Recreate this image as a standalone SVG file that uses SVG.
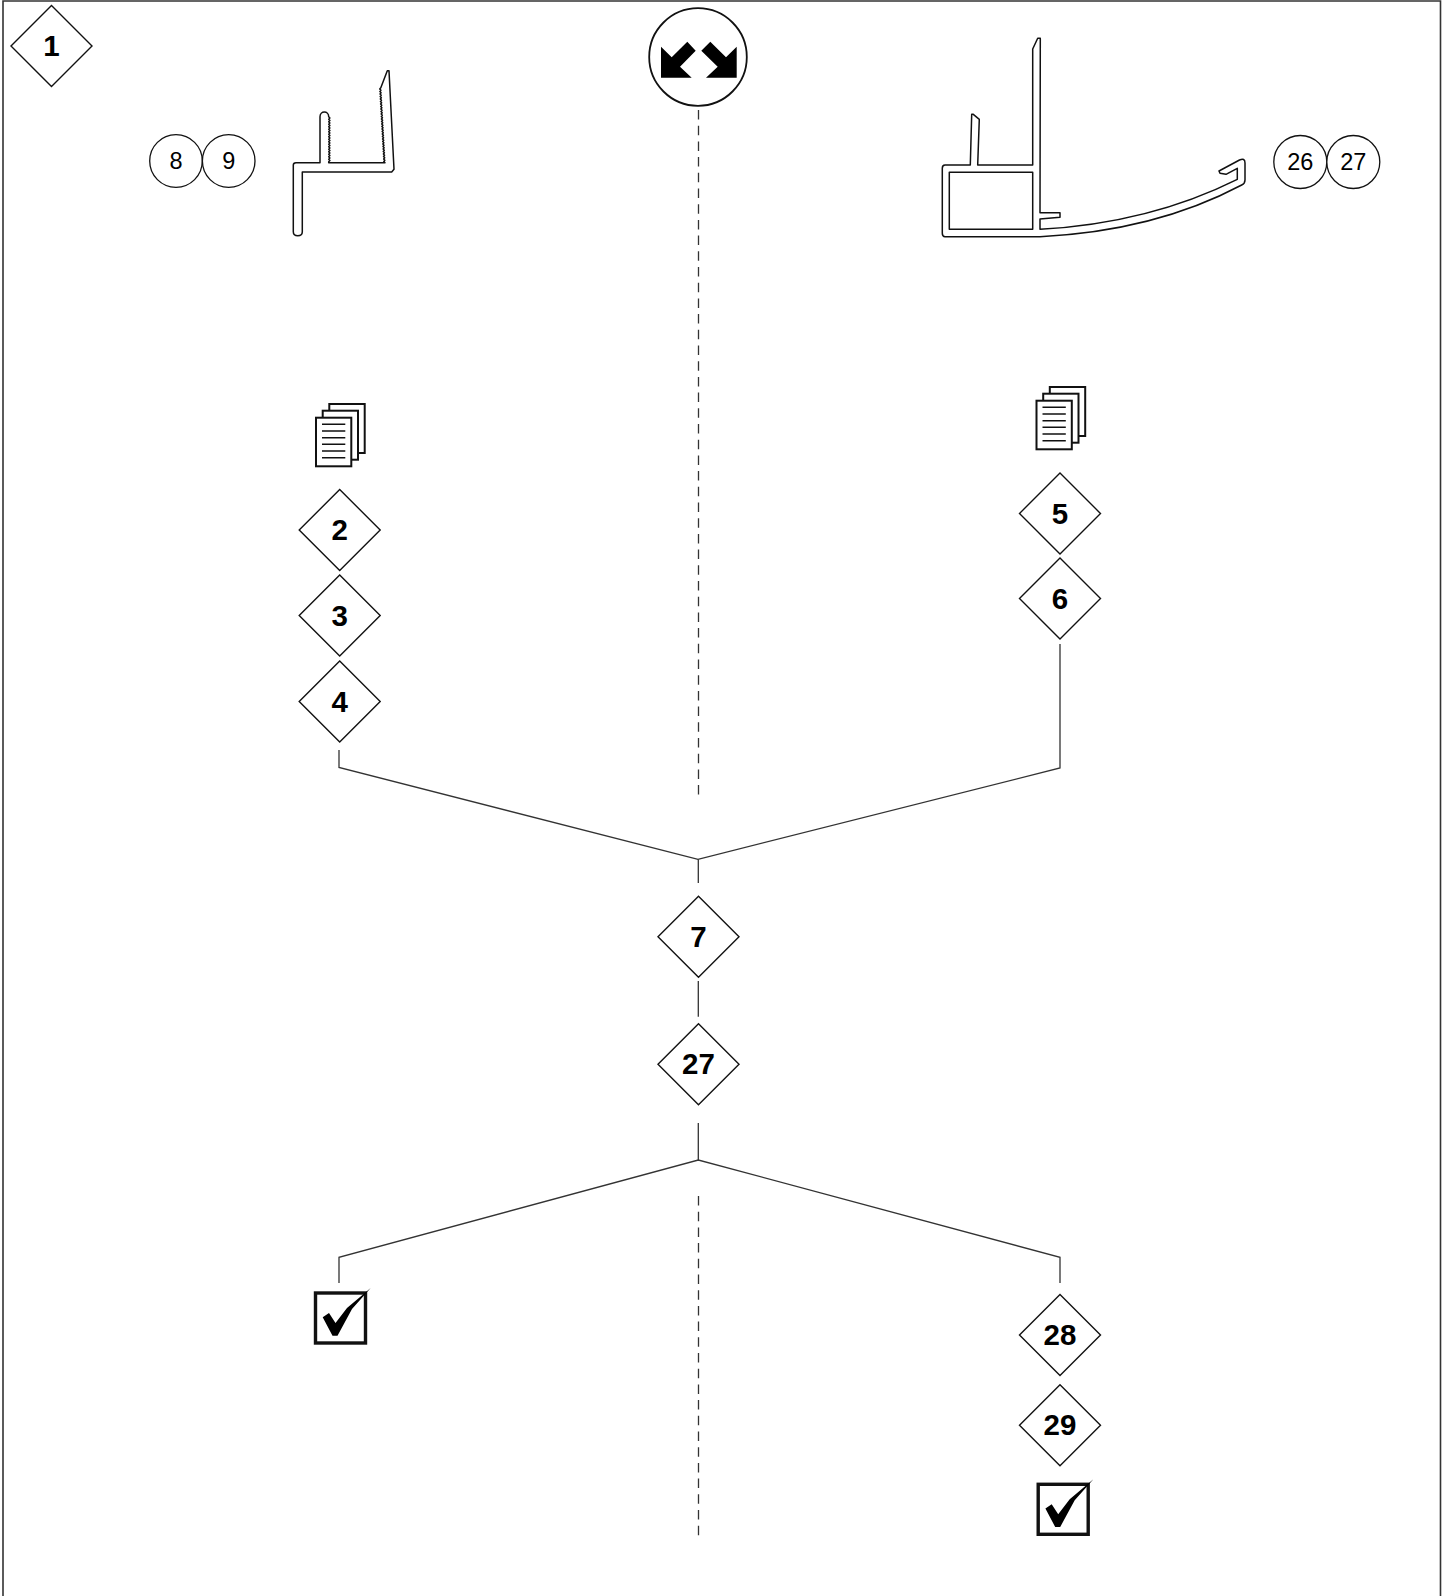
<svg xmlns="http://www.w3.org/2000/svg" xmlns:xlink="http://www.w3.org/1999/xlink" width="1449" height="1596" viewBox="0 0 1449 1596">
<style>
.d{fill:#fff;stroke:#111;stroke-width:1.4}
.t{font-family:"Liberation Sans",Arial,sans-serif;font-weight:700;font-size:29.5px;text-anchor:middle;fill:#000}
.c{fill:#fff;stroke:#111;stroke-width:1.3}
.n{font-family:"Liberation Sans",Arial,sans-serif;font-size:23.5px;text-anchor:middle;fill:#000}
.l{fill:none;stroke:#333;stroke-width:1.3}
.p{fill:none;stroke:#111;stroke-width:1.5;stroke-linejoin:round}
.s{fill:#fff;stroke:#111;stroke-width:2}
.r{fill:none;stroke:#111;stroke-width:1.6}
.b{fill:#fff;stroke:#111;stroke-width:3.4}
</style>
<defs>
<polygon id="dm" class="d" points="0,-40.5 40.5,0 0,40.5 -40.5,0"/>
<g id="docs">
<rect class="s" x="329.3" y="404" width="35.4" height="49"/>
<rect class="s" x="322.7" y="410.7" width="35.3" height="49"/>
<rect class="s" x="316" y="417.7" width="35.3" height="48.6"/>
<path class="r" d="M322 424.3H345.3M322 431H345.3M322 437.7H345.3M322 444.3H345.3M322 451H345.3M322 457.7H345.3"/>
</g>
<g id="chk">
<rect class="b" x="315.5" y="1293" width="50" height="50"/>
<polygon fill="#000" points="322.7,1317.3 329,1313 335.5,1323 347,1308 370.7,1288 352,1309 337.5,1335.7 332.5,1335.7"/>
</g>
</defs>
<rect width="1449" height="1596" fill="#fff"/>
<path id="frame" fill="none" stroke="#333" stroke-width="1.6" d="M3 1596V1H1440.5V1596"/>
<g id="connectors">
<path class="l" stroke-dasharray="9.5 6.2" d="M698.5 110V795"/>
<path class="l" stroke-dasharray="9.5 6.2" d="M698.5 1196V1537"/>
<path class="l" d="M339 750V767.5L698 859.3L1060 768V644"/>
<path class="l" d="M698.3 859.3V883M698.3 981V1016.7M698.3 1123V1160"/>
<path class="l" d="M339 1283V1257.3L698.3 1160L1060 1257.3V1283"/>
</g>
<g id="node-1"><use xlink:href="#dm" href="#dm" x="51.5" y="46"/><text class="t" x="51.5" y="56">1</text></g>
<g id="node-direction">
<circle cx="698" cy="57" r="48.8" fill="#fff" stroke="#111" stroke-width="1.8"/>
<polygon fill="#000" points="661,46.7 671.7,57.3 687.3,41.7 695.7,50.7 680,66.7 691.7,77.7 661,77.7"/>
<polygon fill="#000" points="736.7,46.7 726,57.3 710.3,41.7 701.3,50.7 717.7,66.7 706,77.7 736.7,77.7"/>
</g>
<g id="circles-8-9">
<circle class="c" cx="176" cy="161" r="26.3"/><circle class="c" cx="228.7" cy="161" r="26.3"/>
<text class="n" x="176" y="169">8</text><text class="n" x="228.7" y="169">9</text>
</g>
<g id="profile-left">
<path class="p" d="M293.3 231.7V165Q293.3 162.7 296 162.7H320V116.7C320 110.5 328.7 110.5 328.7 116.7l1.2 1.25-1.2 1.25 1.2 1.25-1.2 1.25 1.2 1.25-1.2 1.25 1.2 1.25-1.2 1.25 1.2 1.25-1.2 1.25 1.2 1.25-1.2 1.25 1.2 1.25-1.2 1.25 1.2 1.25-1.2 1.25 1.2 1.25-1.2 1.25 1.2 1.25-1.2 1.25 1.2 1.25-1.2 1.25 1.2 1.25-1.2 1.25 1.2 1.25-1.2 1.25 1.2 1.25-1.2 1.25 1.2 1.25-1.2 1.25 1.2 1.25-1.2 1.25 1.2 1.25-1.2 1.25 1.2 1.25-1.2 1.25V162.7H385l-1.2-1.25 1.06-1.25-1.2-1.25 1.06-1.25-1.2-1.25 1.06-1.25-1.2-1.25 1.06-1.25-1.2-1.25 1.06-1.25-1.2-1.25 1.06-1.25-1.2-1.25 1.06-1.25-1.2-1.25 1.06-1.25-1.2-1.25 1.06-1.25-1.2-1.25 1.06-1.25-1.2-1.25 1.06-1.25-1.2-1.25 1.06-1.25-1.2-1.25 1.06-1.25-1.2-1.25 1.06-1.25-1.2-1.25 1.06-1.25-1.2-1.25 1.06-1.25-1.2-1.25 1.06-1.25-1.2-1.25 1.06-1.25-1.2-1.25 1.06-1.25-1.2-1.25 1.06-1.25-1.2-1.25 1.06-1.25-1.2-1.25 1.06-1.25-1.2-1.25 1.06-1.25-1.2-1.25 1.06-1.25-1.2-1.25 1.06-1.25-1.2-1.25 1.06-1.25-1.2-1.25 1.06-1.25-1.2-1.25 1.06-1.25-1.2-1.25 1.06-1.25-1.2-1.25 1.06-1.25L387.3 70.7H389L394 169.3L391.7 172H302.3V231.7C302.3 237 293.3 237 293.3 231.7Z"/>
</g>
<g id="profile-right">
<path class="p" d="M942.3 168.3Q942.3 165 945 165H970.3L971.7 114.3H973.3L979.3 119.3L977.7 165H1032.7V49L1037.7 38.3H1040.3L1040 212.7H1060V217.3L1040 219V229.3Q1150 223 1237.3 179.3V168.3L1226 174.3L1220 173.3L1219 171L1239.5 160Q1245 157.5 1245 163V180Q1245 183.5 1241.7 185Q1155 231 1040 236.7H945Q942.3 236.7 942.3 233.3Z"/>
<rect class="p" x="949.3" y="172.3" width="83.4" height="57"/>
</g>
<g id="circles-26-27">
<circle class="c" cx="1300.3" cy="162" r="26.5"/><circle class="c" cx="1353.3" cy="162" r="26.5"/>
<text class="n" x="1300.3" y="170.3">26</text><text class="n" x="1353.3" y="170.3">27</text>
</g>
<g id="docs-left"><use xlink:href="#docs" href="#docs"/></g>
<g id="docs-right"><use xlink:href="#docs" href="#docs" x="720.5" y="-17"/></g>
<g id="node-2"><use xlink:href="#dm" href="#dm" x="339.7" y="530"/><text class="t" x="339.7" y="540">2</text></g>
<g id="node-3"><use xlink:href="#dm" href="#dm" x="339.7" y="615.5"/><text class="t" x="339.7" y="625.5">3</text></g>
<g id="node-4"><use xlink:href="#dm" href="#dm" x="339.7" y="701.5"/><text class="t" x="339.7" y="711.5">4</text></g>
<g id="node-5"><use xlink:href="#dm" href="#dm" x="1060" y="513.5"/><text class="t" x="1060" y="523.5">5</text></g>
<g id="node-6"><use xlink:href="#dm" href="#dm" x="1060" y="598.5"/><text class="t" x="1060" y="608.5">6</text></g>
<g id="node-7"><use xlink:href="#dm" href="#dm" x="698.5" y="936.7"/><text class="t" x="698.5" y="946.7">7</text></g>
<g id="node-27"><use xlink:href="#dm" href="#dm" x="698.5" y="1064.3"/><text class="t" x="698.5" y="1074.3">27</text></g>
<g id="node-28"><use xlink:href="#dm" href="#dm" x="1060" y="1335"/><text class="t" x="1060" y="1345">28</text></g>
<g id="node-29"><use xlink:href="#dm" href="#dm" x="1060" y="1425.3"/><text class="t" x="1060" y="1435.3">29</text></g>
<g id="check-left"><use xlink:href="#chk" href="#chk"/></g>
<g id="check-right"><use xlink:href="#chk" href="#chk" x="722.7" y="191.3"/></g>
</svg>
